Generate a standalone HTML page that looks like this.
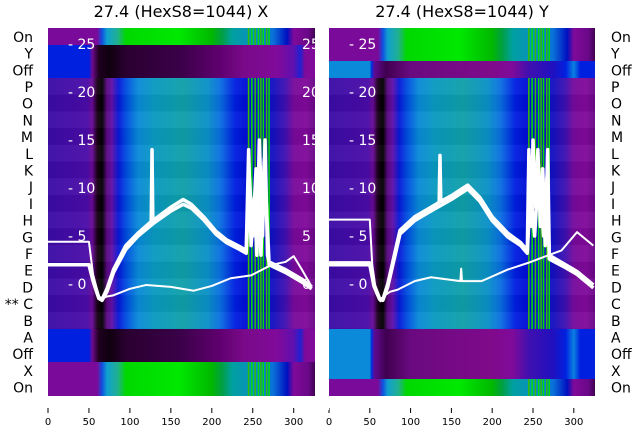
<!DOCTYPE html>
<html><head><meta charset="utf-8"><style>
body{margin:0;background:#fff;}
svg{display:block;font-family:"DejaVu Sans","Liberation Sans",sans-serif;}
</style></head><body>
<svg id="chart" width="640" height="440" viewBox="0 0 640 440">
<defs id="defs"></defs>
<text x="181" y="17" font-size="16" text-anchor="middle" fill="#000">27.4 (HexS8=1044) X</text>
<text x="462" y="17" font-size="16" text-anchor="middle" fill="#000">27.4 (HexS8=1044) Y</text>
<g id="layer"></g>
</svg>
<script>
const rowLabels = ["On","Y","Off","P","O","N","M","L","K","J","I","H","G","F","E","D","C","B","A","Off","X","On"];
const xTicks = [0,50,100,150,200,250,300];
const yTicks = [0,5,10,15,20,25];
const stripeXs = [244,248,252,256,259,262,266,269];
const leftThin = [[0,4.4],[50,4.4],[55,1],[62,-1.3],[66,-1.5],[72,-1.3],[79,-1.2],[100,-0.5],[120,-0.1],[150,-0.3],[178,-0.7],[200,-0.2],[223,0.6],[248,0.9],[273,2.0],[290,2.3],[300,2.9],[310,1.5],[322,-0.3]];
const leftHumpA = [[0,2.0],[50,2.0],[55,0.5],[62,-1.4],[66,-1.6],[72,-0.5],[80,1.5],[95,4],[110,5.3],[126,6.5],[127,14],[128,6.6],[150,8],[165,8.8],[175,8.3],[190,7],[205,5.5],[218,4.6],[234,3.9],[242,3.5],[245,14],[248,4],[252,9],[255,3],[258,15],[262,5],[265,15],[268,3],[270,2.3],[290,1.5],[310,0.5],[322,-0.3]];
const leftHumpB = [[0,2.0],[50,2.0],[55,0.3],[62,-1.5],[66,-1.7],[72,-0.8],[80,1.2],[95,3.6],[110,5],[130,6.4],[150,7.6],[165,8.3],[175,7.9],[190,6.7],[205,5.2],[218,4.3],[234,3.6],[242,3.2],[246,11],[250,5],[254,12],[260,3],[264,13],[270,2],[290,1.2],[310,0.2],[322,-0.5]];
const rightThin = [[0,6.7],[50,6.7],[53,2],[58,-1],[63,-1.8],[68,-1.2],[75,-0.8],[84,-0.6],[105,0.3],[125,0.7],[161,0.3],[162,1.6],[163,0.3],[187,0.3],[219,1.5],[244,2.2],[269,3.0],[285,3.5],[304,5.4],[324,4.0]];
const rightHumpA = [[0,2.2],[50,2.2],[55,0],[62,-1.5],[66,-1.6],[72,0],[87,5.6],[105,7],[125,8],[135,8.5],[136,13.4],[137,8.6],[150,9.2],[170,10.3],[185,9],[200,7],[219,5.3],[235,4.3],[243,3.5],[245,14],[248,6],[250,15],[253,8],[256,14],[259,6],[262,12],[265,4],[268,14],[270,3],[276,2.7],[290,2.0],[304,1.3],[324,-0.1]];
const rightHumpB = [[0,2.0],[50,2.0],[55,-0.2],[62,-1.6],[66,-1.7],[72,-0.3],[87,5.2],[105,6.6],[125,7.6],[150,8.8],[170,9.9],[185,8.6],[200,6.6],[219,4.9],[235,4.0],[243,3.2],[247,10],[252,5],[257,12],[263,5],[267,11],[270,2.6],[290,1.7],[304,1.0],[324,-0.4]];
// colour profiles: [unit, colour]
const mainProfile = [[0,"#3c0ca6"],[48,"#4a0ca8"],[54,"#6a0a98"],[60,"#1a001a"],[66,"#000000"],[72,"#5a0a80"],[78,"#6010a8"],[86,"#0818d8"],[96,"#0050e0"],[110,"#0a8ad8"],[130,"#0a9ac0"],[165,"#10a0a8"],[195,"#0a90c8"],[210,"#0a70e0"],[228,"#0020e0"],[240,"#0010d8"],[275,"#1410c0"],[290,"#4010b0"],[300,"#780a9c"],[315,"#800a9a"],[326,"#6a0888"]];
const greenProfile = [[0,"#7a0a9a"],[60,"#7a0a9a"],[66,"#1050e0"],[72,"#10a0d0"],[85,"#20b090"],[95,"#00d800"],[160,"#00e800"],[200,"#00b800"],[212,"#00a040"],[225,"#00a0a0"],[250,"#0a90c0"],[275,"#0a70d8"],[292,"#0010c0"],[300,"#800a9a"],[318,"#6a0888"],[326,"#400050"]];
const darkProfile = [[0,"#0020e0"],[50,"#0020e0"],[54,"#700a90"],[62,"#200020"],[75,"#100010"],[95,"#2a0030"],[160,"#3a0048"],[210,"#600070"],[240,"#7a0a8a"],[280,"#800a9a"],[300,"#6010b0"],[308,"#2020d0"],[314,"#800a9a"],[326,"#800a9a"]];
const offProfile = [[0,"#0a8ad8"],[50,"#0a8ad8"],[52,"#0030e0"],[56,"#600a90"],[70,"#400050"],[100,"#6a0a80"],[200,"#800a8a"],[225,"#800a9a"],[245,"#4010b0"],[275,"#2010c0"],[290,"#0020e0"],[300,"#0a80e0"],[308,"#0020e0"],[326,"#0020e0"]];

const NS="http://www.w3.org/2000/svg";
const layer=document.getElementById('layer');
const defs=document.getElementById('defs');
const TOP=28.5, ROWH=16.7, MAXU=326;
function mk(tag,attrs,parent){const e=document.createElementNS(NS,tag);for(const k in attrs)e.setAttribute(k,attrs[k]);(parent||layer).appendChild(e);return e;}
function makeGrad(id,profile){
  const g=mk('linearGradient',{id:id,x1:0,x2:1,y1:0,y2:0},defs);
  profile.forEach(p=>mk('stop',{offset:(p[0]/MAXU),'stop-color':p[1]},g));
}
makeGrad('gMain',mainProfile);makeGrad('gGreen',greenProfile);makeGrad('gDark',darkProfile);makeGrad('gOff',offProfile);

function panel(name,x0,x1,bands,thin,humps,titleSide){
  const pw=x1-x0; const sx=u=>x0+u*pw/MAXU; const sy=v=>284-9.6*v;
  const g=mk('g',{});
  
  
  const cid='clip-'+name;
  const cp=mk('clipPath',{id:cid},defs); mk('rect',{x:x0,y:TOP,width:pw,height:ROWH*22},cp);
  bands.forEach(b=>{
    const r=mk('rect',{x:x0,y:b[0],width:pw,height:b[1]-b[0],fill:'url(#'+b[2]+')'},g);
    
    
    if(b[2]==='gMain'){
      for(let i=0;i<15;i++){
        const rr=mk('rect',{x:x0,y:b[0]+i*ROWH,width:pw,height:ROWH,fill:i%2?'#000':'#fff',opacity:0.04},g);
        
        
      }
    }
    if(b[2]!=='gDark' && b[2]!=='gOff'){
      stripeXs.forEach((s,i)=>{
        const st=mk('rect',{x:sx(s),y:b[0],width:1.5,height:b[1]-b[0],fill:i%2?'#00e000':'#30c000'},g);
        
        
      });
    }
  });
  const lg=mk('g',{'clip-path':'url(#'+cid+')'},g);
  humps.forEach(h=>{
    const p=mk('polyline',{points:h.map(d=>sx(d[0])+','+sy(d[1])).join(' '),fill:'none',stroke:'#fff','stroke-width':3.5,'stroke-linejoin':'round'},lg);
    
    
  });
  const t=mk('polyline',{points:thin.map(d=>sx(d[0])+','+sy(d[1])).join(' '),fill:'none',stroke:'#fff','stroke-width':2,'stroke-linejoin':'round'},lg);
  
  
  yTicks.forEach(v=>{
    const tx=mk('text',{x:x0+20,y:sy(v)+5,'font-size':14,fill:'#fff'},g);
    tx.textContent='- '+v;
    
    
  });
  xTicks.forEach(u=>{
    mk('line',{x1:sx(u),x2:sx(u),y1:408,y2:413,stroke:'#000','stroke-width':1},g);
    const tx=mk('text',{x:sx(u),y:425,'font-size':10,'text-anchor':'middle',fill:'#000'},g);
    tx.textContent=u;
    
    
  });
  rowLabels.forEach((lab,i)=>{
    const y=TOP+ROWH*(i+0.5)+5;
    const tx=titleSide==='left'?mk('text',{x:33,y:y,'font-size':14,'text-anchor':'end',fill:'#000'},g):mk('text',{x:611,y:y,'font-size':14,'text-anchor':'start',fill:'#000'},g);
    tx.textContent=(titleSide==='left'&&lab==='C'&&i===16)?'** C':lab;
    
    
  });
  return {sx,sy};
}
panel('left-panel',48,315,[[28,45,'gGreen'],[45,78,'gDark'],[78,329,'gMain'],[329,362,'gDark'],[362,396,'gGreen']],leftThin,[leftHumpA,leftHumpB],'left');
panel('right-panel',329,595,[[28,61,'gGreen'],[61,78,'gOff'],[78,329,'gMain'],[329,379,'gOff'],[379,396,'gGreen']],rightThin,[rightHumpA,rightHumpB],'right');
// right-panel tick labels overlapping left panel edge
yTicks.forEach(v=>{
  const tx=mk('text',{x:302,y:284-9.6*v+5,'font-size':14,fill:'#fff'});
  tx.textContent=v;
  
  
});
const gap=mk('rect',{x:315,y:20,width:14,height:390,fill:'#fff'});


</script>
</body></html>
